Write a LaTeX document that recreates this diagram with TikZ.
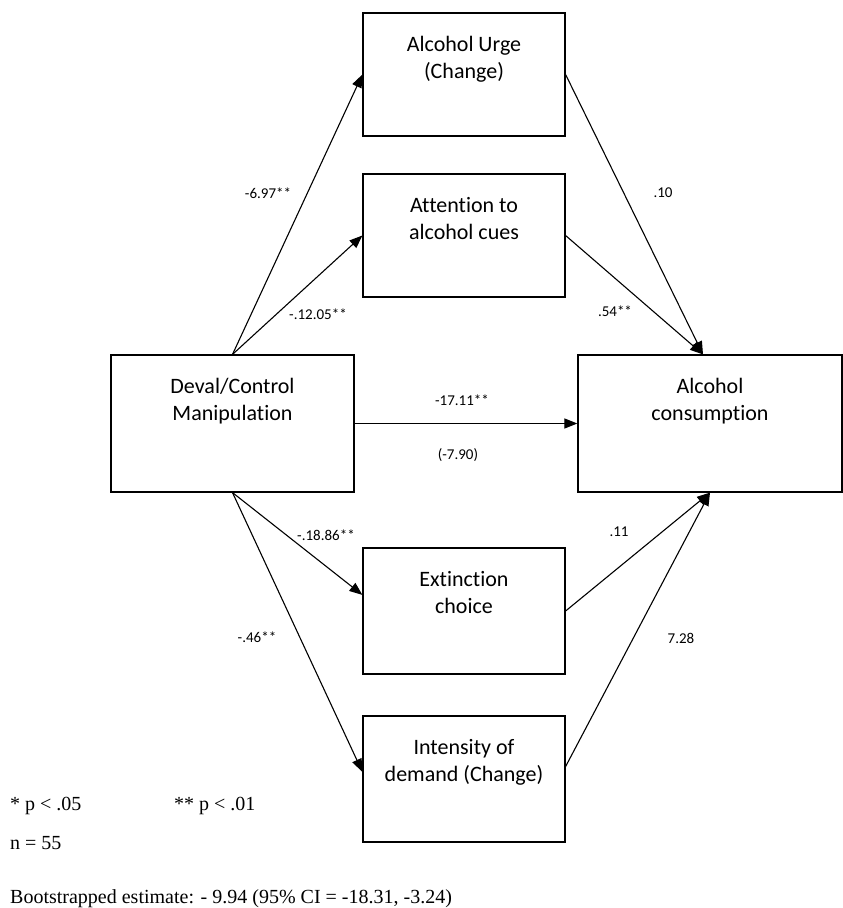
\documentclass[tikz,border=0pt]{standalone}
\usepackage{fontspec}
\setmainfont{Carlito}[Ligatures=NoCommon]
\newfontfamily\notefont{Liberation Serif}
\usepackage{tikz}
\usetikzlibrary{positioning,arrows.meta}

\begin{document}
\begin{tikzpicture}[x=1pt, y=-1pt,
									box/.style = {rectangle, draw, line width=1.2pt, inner sep=0pt},
									boxtext/.style = {align=center, inner sep=0pt, font=\fontsize{22}{27}\selectfont},
									effect/.style = {-{Triangle[length=13pt,width=10pt]}, line width=1.1pt},
									coef/.style = {inner sep=0pt, font=\fontsize{15}{18}\selectfont},
									note/.style = {anchor=base west, inner sep=0pt, font=\notefont\fontsize{20}{24}\selectfont}]
					\useasboundingbox (0,0) rectangle (843,908);
					
					\node[box, minimum width=202pt, minimum height=123pt] (urge) at (464, 74.5) {};
					\node[box, minimum width=202pt, minimum height=123pt] (attn) at (464, 235.5) {};
					\node[box, minimum width=243pt, minimum height=137pt] (deval) at (232.5, 423.5) {};
					\node[box, minimum width=264pt, minimum height=137pt] (consum) at (710, 423.5) {};
					\node[box, minimum width=202pt, minimum height=126pt] (extinct) at (464, 611) {};
					\node[box, minimum width=202pt, minimum height=126pt] (demand) at (464, 779) {};
					
					\node[boxtext, below=24pt of urge.north] (urgeT) {Alcohol Urge\\(Change)};
					\node[boxtext, below=24pt of attn.north] (attnT) {Attention to\\alcohol cues};
					\node[boxtext, below=24pt of deval.north] (devalT) {Deval/Control\\Manipulation};
					\node[boxtext, below=24pt of consum.north] (consumT) {Alcohol\\consumption};
					\node[boxtext, below=24pt of extinct.north] (extinctT) {Extinction\\choice};
					\node[boxtext, below=24pt of demand.north] (demandT) {Intensity of\\demand (Change)};
					
					\draw[effect] (deval.north) to (urge.west);
					\draw[effect] (deval.north) to (attn.west);
					\draw[effect] (urge.east) to ([xshift=-7pt]consum.north);
					\draw[effect] (attn.east) to ([xshift=-7pt]consum.north);
					\draw[effect] (deval.east) to (consum.west);
					\draw[effect] (deval.south) to (extinct.171);
					\draw[effect] (deval.south) to (demand.176);
					\draw[effect] (extinct.east) to (consum.south);
					\draw[effect] (demand.7) to (consum.south);
					
					\node[coef] (c1) at (268, 193) {-6.97**};
					\node[coef] (c2) at (318, 314) {-.12.05**};
					\node[coef] (c3) at (663, 193) {.10};
					\node[coef] (c4) at (615, 311) {.54**};
					\node[coef] (c5) at (462, 400) {-17.11**};
					\node[coef] (c6) at (458, 455) {(-7.90)};
					\node[coef] (c7) at (326, 535) {-.18.86**};
					\node[coef] (c8) at (619, 532) {.11};
					\node[coef] (c9) at (257, 637) {-.46**};
					\node[coef] (c10) at (681, 638) {7.28};
					
					\node[note] (sig1) at (10, 810) {* p < .05};
					\node[note] (sig2) at (174, 810) {** p < .01};
					\node[note] (nsize) at (10, 849) {n = 55};
					\node[note] (boot) at (10, 903) {Bootstrapped estimate: - 9.94 (95\% CI = -18.31, -3.24)};
				\end{tikzpicture}
\end{document}
